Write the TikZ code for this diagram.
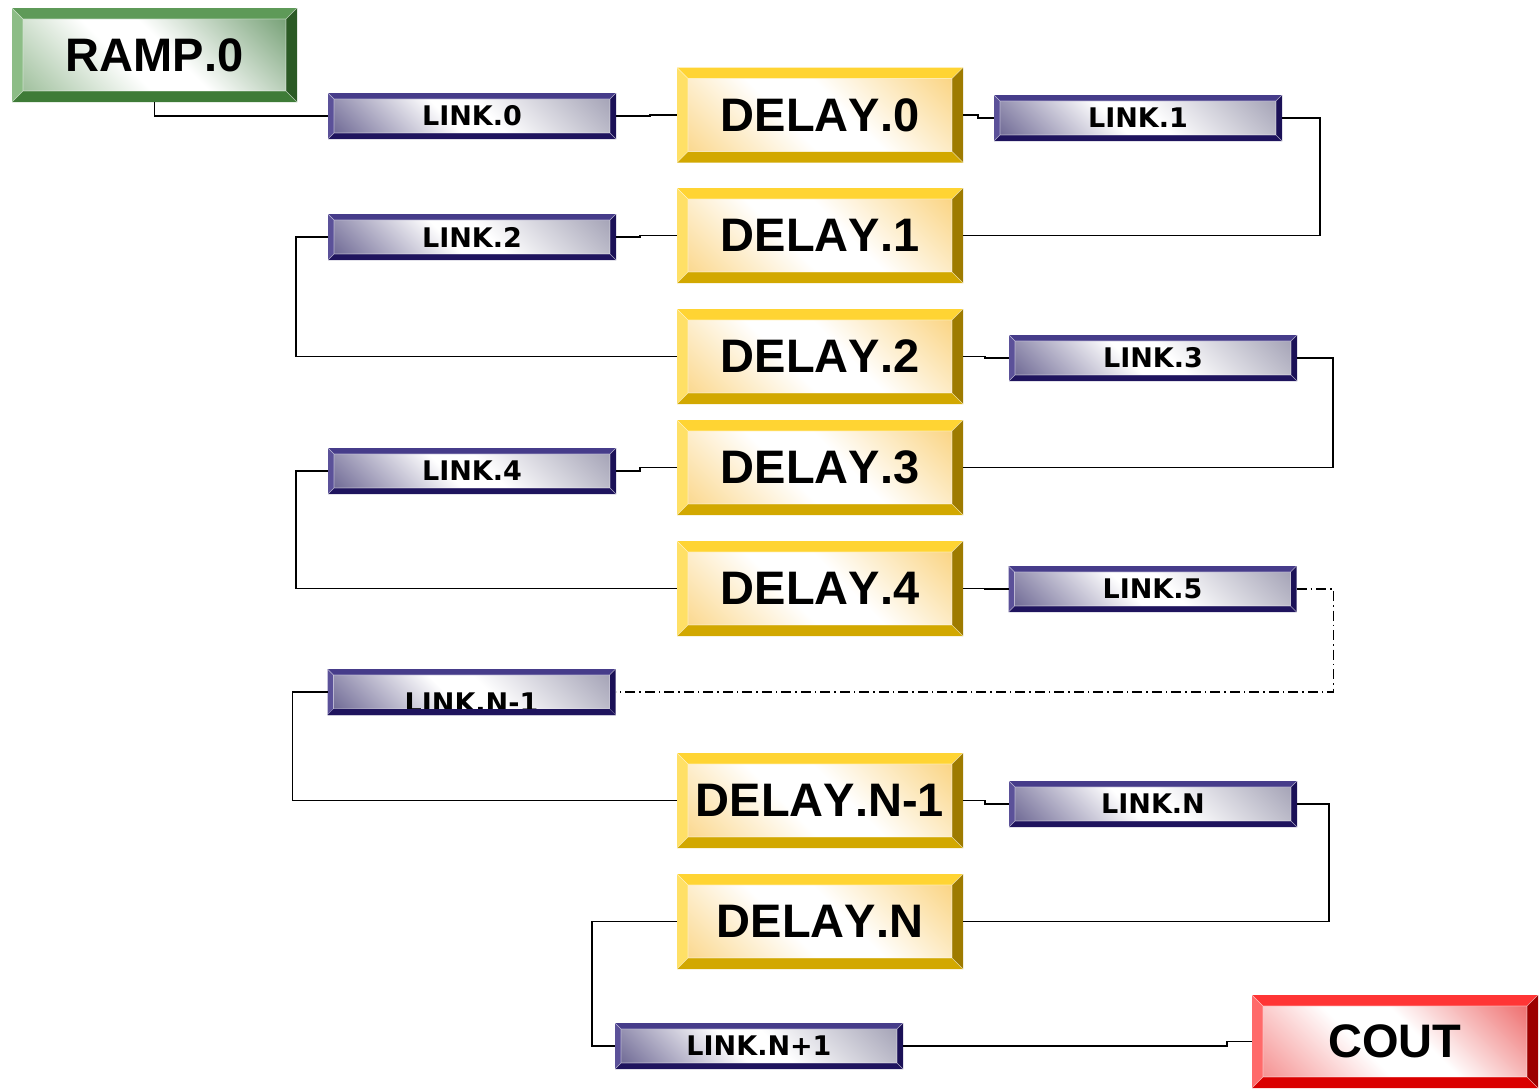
\documentclass[tikz,border=0pt]{standalone}
\usepackage{fontspec}
\newfontfamily\boxfont{Liberation Sans}[Kerning=Off]
\newfontfamily\linkfont{DejaVu Sans}[Kerning=Off]

% bevel palettes: L = left face, T = top face, R = right face, B = bottom face,
% A = inner tint towards the upper right, Z = inner tint towards the lower left
\definecolor{rampL}{HTML}{8CBD86}\definecolor{rampT}{HTML}{5E9A58}
\definecolor{rampR}{HTML}{2B5A25}\definecolor{rampB}{HTML}{3E7B37}
\definecolor{rampA}{HTML}{3A773A}\definecolor{rampZ}{HTML}{6FA06B}
\definecolor{dlyL}{HTML}{FFE066}\definecolor{dlyT}{HTML}{FFD433}
\definecolor{dlyR}{HTML}{9E7B00}\definecolor{dlyB}{HTML}{D2A800}
\definecolor{dlyA}{HTML}{F8C048}\definecolor{dlyZ}{HTML}{F9C454}
\definecolor{lnkL}{HTML}{5B5199}\definecolor{lnkT}{HTML}{463C8A}
\definecolor{lnkR}{HTML}{1B1157}\definecolor{lnkB}{HTML}{1F145E}
\definecolor{lnkA}{HTML}{7C7A96}\definecolor{lnkZ}{HTML}{2A2262}
\definecolor{coutL}{HTML}{FF6A6A}\definecolor{coutT}{HTML}{FF3535}
\definecolor{coutR}{HTML}{9C0000}\definecolor{coutB}{HTML}{DA0000}
\definecolor{coutA}{HTML}{E62828}\definecolor{coutZ}{HTML}{F05858}

% diagonal inner glows: tint in the lower left and upper right, white across the middle
\pgfdeclareverticalshading{rampglow}{100bp}{color(0bp)=(rampZ); color(42bp)=(white);
  color(54bp)=(white); color(100bp)=(rampA)}
\pgfdeclareverticalshading{dlyglow}{100bp}{color(0bp)=(dlyZ); color(42bp)=(white);
  color(56bp)=(white); color(100bp)=(dlyA)}
\pgfdeclareverticalshading{lnkglow}{100bp}{color(0bp)=(lnkZ); color(44bp)=(white);
  color(54bp)=(white); color(100bp)=(lnkA)}
\pgfdeclareverticalshading{coutglow}{100bp}{color(0bp)=(coutZ); color(42bp)=(white);
  color(56bp)=(white); color(100bp)=(coutA)}

% bevelled frame drawn inside a node:
% #1 bevel width, #2 left, #3 top, #4 right, #5 bottom, #6 inner shading
\newcommand\bevelframe[6]{%
  \path (path picture bounding box.north west) coordinate (pNW);
  \path (path picture bounding box.north east) coordinate (pNE);
  \path (path picture bounding box.south west) coordinate (pSW);
  \path (path picture bounding box.south east) coordinate (pSE);
  \path ([shift={(#1,-#1)}]pNW) coordinate (qNW);
  \path ([shift={(-#1,-#1)}]pNE) coordinate (qNE);
  \path ([shift={(#1,#1)}]pSW) coordinate (qSW);
  \path ([shift={(-#1,#1)}]pSE) coordinate (qSE);
  \shade[shading=#6,shading angle=-45] (qNW) rectangle (qSE);
  \fill[#3] (pNW) -- (pNE) -- (qNE) -- (qNW) -- cycle;
  \fill[#2] (pNW) -- (pSW) -- (qSW) -- (qNW) -- cycle;
  \fill[#4] (pNE) -- (pSE) -- (qSE) -- (qNE) -- cycle;
  \fill[#5] (pSW) -- (pSE) -- (qSE) -- (qSW) -- cycle;
  \draw[white,opacity=.55,line width=.6pt] (qNW) rectangle (qSE)
    (pNW) -- (qNW) (pNE) -- (qNE) (pSW) -- (qSW) (pSE) -- (qSE);
}

\tikzset{
  box/.style={rectangle,inner sep=0pt,outer sep=0pt,text=black},
  bigbox/.style={box,minimum width=286pt,minimum height=94pt,
    font=\boxfont\bfseries\fontsize{47}{50}\selectfont},
  rampbox/.style={bigbox,minimum width=285pt,
    path picture={\bevelframe{11pt}{rampL}{rampT}{rampR}{rampB}{rampglow}}},
  delaybox/.style={bigbox,minimum height=95pt,
    path picture={\bevelframe{11pt}{dlyL}{dlyT}{dlyR}{dlyB}{dlyglow}}},
  coutbox/.style={bigbox,minimum height=93pt,
    path picture={\bevelframe{11pt}{coutL}{coutT}{coutR}{coutB}{coutglow}}},
  linkbox/.style={box,minimum width=288pt,minimum height=46pt,
    font=\linkfont\bfseries\fontsize{27}{30}\selectfont,
    path picture={\bevelframe{6pt}{lnkL}{lnkT}{lnkR}{lnkB}{lnkglow}}},
  wire/.style={draw=black,line width=1.9pt},
  dashwire/.style={wire,dash pattern=on 10pt off 4pt on 1.5pt off 4pt},
}

\begin{document}
\begin{tikzpicture}[x=1pt,y=-1pt]
\useasboundingbox (0,0) rectangle (1539,1088);
\fill[white] (0,0) rectangle (1539,1088);

% processing blocks
\node[rampbox]  (ramp)    at (154.5,55)   {RAMP.0};
\node[delaybox] (delay0)  at (820,115)    {DELAY.0};
\node[delaybox] (delay1)  at (820,235.5)  {DELAY.1};
\node[delaybox] (delay2)  at (820,356.5)  {DELAY.2};
\node[delaybox] (delay3)  at (820,467.5)  {DELAY.3};
\node[delaybox] (delay4)  at (820,588.5)  {DELAY.4};
\node[delaybox] (delayn1) at (820,800.5)  {DELAY.N-1};
\node[delaybox] (delayn)  at (820,921.5)  {DELAY.N};
\node[coutbox]  (cout)    at (1395,1041.5) {COUT};

% link blocks
\node[linkbox] (link0)   at (472,116)    {LINK.0};
\node[linkbox] (link1)   at (1138,118)   {LINK.1};
\node[linkbox] (link2)   at (472,237)    {LINK.2};
\node[linkbox] (link3)   at (1153,358)   {LINK.3};
\node[linkbox] (link4)   at (472,471)    {LINK.4};
\node[linkbox] (link5)   at (1152.5,589) {LINK.5};
\node[linkbox] (linkn1)  at (471.5,692)  {\raisebox{-20pt}[0pt][0pt]{LINK.N-1}};
\node[linkbox] (linkn)   at (1153,804)   {LINK.N};
\node[linkbox] (linknp1) at (759,1046)   {LINK.N+1};
% the lower bevel of LINK.N-1 overlaps its low-set label
\fill[lnkB] (linkn1.south west) -- (linkn1.south east) -- ++(-6pt,6pt)
  -- ([shift={(6pt,6pt)}]linkn1.south west) -- cycle;

% connectors
\draw[wire] (ramp.south) |- (link0.west);
\draw[wire] (link0.east) -- ++(34pt,0) |- (delay0.west);
\draw[wire] (delay0.east) -- ++(15pt,0) |- (link1.west);
\draw[wire] (link1.east) -- ++(38pt,0) |- (delay1.east);
\draw[wire] (delay1.west) -- ++(-37pt,0) |- (link2.east);
\draw[wire] (link2.west) -- ++(-32pt,0) |- (delay2.west);
\draw[wire] (delay2.east) -- ++(22pt,0) |- (link3.west);
\draw[wire] (link3.east) -- ++(36pt,0) |- (delay3.east);
\draw[wire] (delay3.west) -- ++(-37pt,0) |- (link4.east);
\draw[wire] (link4.west) -- ++(-32pt,0) |- (delay4.west);
\draw[wire] (delay4.east) -- ++(22pt,0) |- (link5.west);
\draw[dashwire] (link5.east) -- ++(37pt,0) |- (linkn1.east);
\draw[wire] (linkn1.west) -- ++(-35pt,0) |- (delayn1.west);
\draw[wire] (delayn1.east) -- ++(22pt,0) |- (linkn.west);
\draw[wire] (linkn.east) -- ++(32pt,0) |- (delayn.east);
\draw[wire] (delayn.west) -- ++(-85pt,0) |- (linknp1.west);
\draw[wire] (linknp1.east) -- ++(324pt,0) |- (cout.west);
\end{tikzpicture}
\end{document}
